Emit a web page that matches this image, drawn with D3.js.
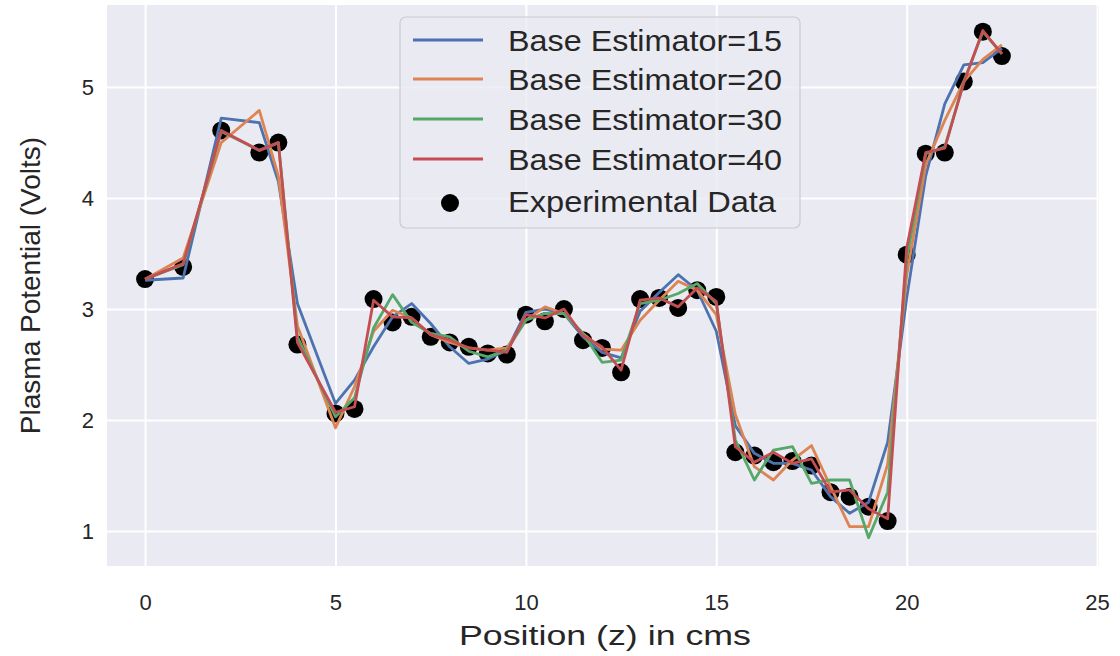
<!DOCTYPE html>
<html>
<head>
<meta charset="utf-8">
<script src="https://cdn.jsdelivr.net/npm/d3@7"></script>
<style>
  body { margin: 0; background: #fff; }
  svg { display: block; font-family: "Liberation Sans", Arial, sans-serif; }
</style>
</head>
<body>
<svg id="chart" width="1120" height="656"></svg>
<script>
// positions along z (cms)
const positions = [0, 1, 2, 3, 3.5, 4, 5, 5.5, 6, 6.5, 7, 7.5, 8, 8.5, 9, 9.5, 10, 10.5, 11, 11.5,
  12, 12.5, 13, 13.5, 14, 14.5, 15, 15.5, 16, 16.5, 17, 17.5, 18, 18.5, 19, 19.5, 20, 20.5, 21, 21.5, 22, 22.5];

const experimental = [3.27, 3.38, 4.61, 4.41, 4.5, 2.68, 2.06, 2.1, 3.09, 2.88, 2.93, 2.75, 2.7, 2.66, 2.6, 2.59, 2.95, 2.89, 3.0, 2.72,
  2.65, 2.43, 3.09, 3.1, 3.01, 3.17, 3.11, 1.71, 1.68, 1.62, 1.63, 1.59, 1.35, 1.31, 1.22, 1.09, 3.49, 4.4, 4.41, 5.05, 5.5, 5.28];

const est15 = [3.26, 3.28, 4.72, 4.68, 4.15, 3.05, 2.15, 2.36, 2.66, 2.93, 3.05, 2.87, 2.66, 2.51, 2.55, 2.63, 2.97, 3.0, 2.96, 2.75,
  2.61, 2.56, 2.98, 3.15, 3.31, 3.17, 2.8, 1.95, 1.7, 1.61, 1.61, 1.55, 1.31, 1.16, 1.26, 1.8, 3.1, 4.2, 4.85, 5.2, 5.22, 5.35];

const est20 = [3.27, 3.46, 4.5, 4.79, 4.2, 2.85, 1.93, 2.3, 2.8, 2.99, 2.92, 2.77, 2.7, 2.65, 2.63, 2.65, 2.9, 3.02, 2.96, 2.78,
  2.64, 2.63, 2.9, 3.08, 3.25, 3.17, 2.95, 2.05, 1.58, 1.46, 1.64, 1.77, 1.4, 1.04, 1.04, 1.6, 3.3, 4.3, 4.7, 5.05, 5.25, 5.38];

const est30 = [3.27, 3.4, 4.6, 4.43, 4.5, 2.75, 2.03, 2.2, 2.83, 3.13, 2.88, 2.78, 2.75, 2.62, 2.57, 2.63, 2.9, 2.96, 2.96, 2.78,
  2.52, 2.54, 3.05, 3.08, 3.14, 3.23, 3.05, 1.82, 1.46, 1.73, 1.76, 1.43, 1.46, 1.46, 0.94, 1.35, 3.45, 4.4, 4.46, 5.05, 5.5, 5.3];

const est40 = [3.27, 3.41, 4.61, 4.43, 4.5, 2.7, 2.07, 2.12, 3.08, 2.93, 2.92, 2.77, 2.72, 2.65, 2.63, 2.61, 2.95, 2.92, 3.0, 2.76,
  2.66, 2.45, 3.08, 3.1, 3.02, 3.19, 3.07, 1.76, 1.62, 1.71, 1.61, 1.65, 1.35, 1.37, 1.2, 1.11, 3.55, 4.41, 4.45, 5.04, 5.51, 5.3];

const seriesNames = ["Base Estimator=15", "Base Estimator=20", "Base Estimator=30", "Base Estimator=40"];
const seriesValues = [est15, est20, est30, est40];
const seriesColors = ["#4c72b0", "#dd8452", "#55a868", "#c44e52"];

const xTicks = [0, 5, 10, 15, 20, 25];
const yTicks = [1, 2, 3, 4, 5];

const svg = d3.select("#chart");
const textColor = "#262626";

// zone du graphique
const plot = { left: 107, right: 1099, top: 5, bottom: 566 };

const x = d3.scaleLinear().domain([-1, 25.05]).range([plot.left, plot.right]);
const y = d3.scaleLinear().domain([0.685, 5.74]).range([plot.bottom, plot.top]);

// fond
svg.append("rect")
  .attr("x", plot.left)
  .attr("y", plot.top)
  .attr("width", plot.right - plot.left)
  .attr("height", plot.bottom - plot.top)
  .attr("fill", "#eaeaf2");

// grilles via les axes
svg.append("g")
  .attr("transform", `translate(0, ${plot.bottom})`)
  .call(d3.axisBottom(x).tickValues(xTicks).tickSize(-(plot.bottom - plot.top)).tickFormat(""))
  .call(g => g.select(".domain").remove())
  .call(g => g.selectAll("line").attr("stroke", "#fff").attr("stroke-width", 2));

svg.append("g")
  .attr("transform", `translate(${plot.left}, 0)`)
  .call(d3.axisLeft(y).tickValues(yTicks).tickSize(-(plot.right - plot.left)).tickFormat(""))
  .call(g => g.select(".domain").remove())
  .call(g => g.selectAll("line").attr("stroke", "#fff").attr("stroke-width", 2));

// labels des ticks
svg.append("g")
  .attr("transform", `translate(0, ${plot.bottom})`)
  .call(d3.axisBottom(x).tickValues(xTicks).tickSize(0).tickPadding(28).tickFormat(d3.format("d")))
  .call(g => g.select(".domain").remove())
  .call(g => g.selectAll("text").attr("font-size", 22).attr("fill", textColor)
    .attr("font-family", "Liberation Sans, Arial, sans-serif"));

svg.append("g")
  .attr("transform", `translate(${plot.left}, 0)`)
  .call(d3.axisLeft(y).tickValues(yTicks).tickSize(0).tickPadding(13).tickFormat(d3.format("d")))
  .call(g => g.select(".domain").remove())
  .call(g => g.selectAll("text").attr("font-size", 22).attr("fill", textColor)
    .attr("font-family", "Liberation Sans, Arial, sans-serif"));

// points expérimentaux
const points = positions.map((p, i) => [p, experimental[i]]);
svg.append("g")
  .selectAll("circle")
  .data(points)
  .enter()
  .append("circle")
  .attr("cx", d => x(d[0]))
  .attr("cy", d => y(d[1]))
  .attr("r", 9)
  .attr("fill", "#000");

// courbes
const line = d3.line()
  .x(d => x(d[0]))
  .y(d => y(d[1]));

seriesValues.forEach((vals, k) => {
  svg.append("path")
    .datum(positions.map((p, i) => [p, vals[i]]))
    .attr("d", line)
    .attr("fill", "none")
    .attr("stroke", seriesColors[k])
    .attr("stroke-width", 2.8)
    .attr("stroke-linejoin", "round");
});

// titres des axes
svg.append("text")
  .attr("x", 605)
  .attr("y", 645)
  .attr("text-anchor", "middle")
  .attr("font-size", 27)
  .attr("textLength", 292)
  .attr("lengthAdjust", "spacingAndGlyphs")
  .attr("fill", textColor)
  .text("Position (z) in cms");

svg.append("text")
  .attr("transform", `translate(40, ${(plot.top + plot.bottom) / 2}) rotate(-90)`)
  .attr("text-anchor", "middle")
  .attr("font-size", 28)
  .attr("fill", textColor)
  .text("Plasma Potential (Volts)");

// légende
const legend = svg.append("g");
legend.append("rect")
  .attr("x", 400)
  .attr("y", 17)
  .attr("width", 400)
  .attr("height", 211)
  .attr("rx", 6)
  .attr("fill", "#eaeaf2")
  .attr("fill-opacity", 0.8)
  .attr("stroke", "#cccccc")
  .attr("stroke-width", 1.2);

const rowY = [40, 79, 119, 159, 201];
seriesNames.forEach((name, k) => {
  legend.append("line")
    .attr("x1", 413).attr("x2", 483)
    .attr("y1", rowY[k]).attr("y2", rowY[k])
    .attr("stroke", seriesColors[k])
    .attr("stroke-width", 3);
  legend.append("text")
    .attr("x", 508)
    .attr("y", rowY[k])
    .attr("dy", "0.36em")
    .attr("font-size", 30)
    .attr("textLength", 274)
    .attr("lengthAdjust", "spacingAndGlyphs")
    .attr("fill", textColor)
    .text(name);
});
legend.append("circle")
  .attr("cx", 450)
  .attr("cy", rowY[4] + 2)
  .attr("r", 9)
  .attr("fill", "#000");
legend.append("text")
  .attr("x", 508)
  .attr("y", rowY[4])
  .attr("dy", "0.36em")
  .attr("font-size", 30)
  .attr("textLength", 268)
  .attr("lengthAdjust", "spacingAndGlyphs")
  .attr("fill", textColor)
  .text("Experimental Data");
</script>
</body>
</html>
